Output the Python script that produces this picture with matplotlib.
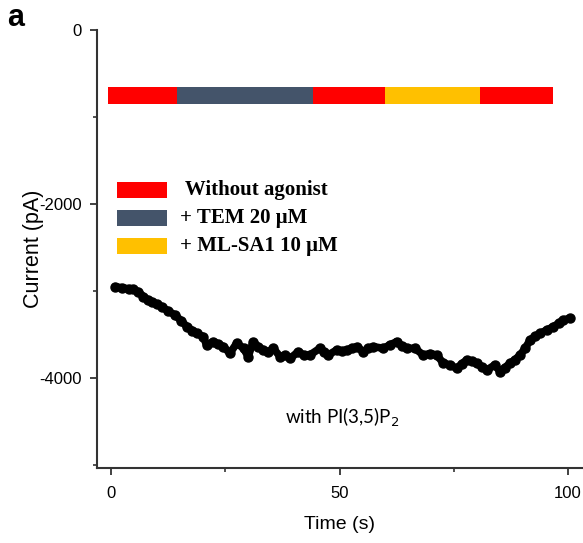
import matplotlib
matplotlib.use("Agg")
import matplotlib.pyplot as plt
from matplotlib.patches import Rectangle
from matplotlib.ticker import MultipleLocator

plt.rcParams['axes.unicode_minus'] = False
plt.rcParams['font.family'] = ['Liberation Sans', 'DejaVu Sans']

# ---- data ----
time_s = [0.9, 2.5, 4.0, 4.9, 6.0, 7.1, 8.0, 8.9, 10.0, 11.1, 12.5, 14.0, 15.3, 16.6,
          17.8, 18.8, 20.2, 20.9, 22.4, 23.5, 24.6, 26.0, 27.5, 29.0, 30.0, 31.1,
          32.2, 33.3, 34.4, 35.5, 37.0, 38.0, 39.2, 41.0, 42.2, 43.5, 45.7, 46.6,
          47.5, 49.4, 50.5, 51.6, 52.7, 53.8, 55.2, 56.3, 57.4, 59.6, 61.0, 62.5,
          63.6, 64.7, 66.5, 68.3, 69.8, 71.3, 72.7, 74.2, 75.6, 76.7, 77.8, 79.0,
          80.0, 81.1, 82.2, 84.0, 85.1, 86.2, 87.3, 88.4, 89.5, 90.6, 91.7, 92.8,
          93.9, 95.3, 96.8, 98.0, 99.0, 100.4]
current_pa = [-2950, -2965, -2975, -2980, -3010, -3065, -3100, -3130, -3150, -3180,
              -3230, -3276, -3340, -3410, -3455, -3487, -3525, -3620, -3583, -3610,
              -3640, -3716, -3601, -3659, -3755, -3583, -3640, -3678, -3700, -3659,
              -3755, -3740, -3774, -3697, -3740, -3736, -3659, -3700, -3736, -3678,
              -3690, -3678, -3660, -3640, -3697, -3660, -3640, -3659, -3620, -3583,
              -3630, -3659, -3659, -3736, -3720, -3736, -3831, -3850, -3889, -3840,
              -3793, -3810, -3831, -3870, -3908, -3850, -3927, -3880, -3831, -3790,
              -3736, -3660, -3563, -3520, -3487, -3450, -3410, -3370, -3333, -3314]

seg_start = [-0.7, 14.4, 44.2, 60.0, 80.7]
seg_end = [14.4, 44.2, 60.0, 80.7, 96.7]
seg_color = ['#FF0000', '#44546A', '#FF0000', '#FFC000', '#FF0000']

legend_labels = [' Without agonist', '+ TEM 20 μM', '+ ML-SA1 10 μM']
legend_colors = ['#FF0000', '#44546A', '#FFC000']

x_ticks = [0, 50, 100]
y_ticks = [0, -2000, -4000]

# ---- figure ----
fig = plt.figure(figsize=(5.83, 5.43), dpi=100)
ax = fig.add_axes([0.1669, 0.1381, 0.831, 0.8066])

spine_col = '#333333'
for s in ['top', 'right']:
    ax.spines[s].set_visible(False)
for s in ['left', 'bottom']:
    ax.spines[s].set_color(spine_col)
    ax.spines[s].set_linewidth(1.5)

# protocol bar
widths = [e - s for s, e in zip(seg_start, seg_end)]
ax.barh(-752, widths, left=seg_start, height=195, color=seg_color, edgecolor='none')

# legend (manual)
row_y = [-1839, -2161, -2483]
for lab, col, yc in zip(legend_labels, legend_colors, row_y):
    ax.add_patch(Rectangle((1.3, yc - 92), 11.0, 184, facecolor=col, edgecolor='none'))
    ax.text(15.1, yc, lab, fontsize=15, fontweight='bold', family='Liberation Serif',
            va='center', ha='left')

# data
ax.plot(time_s, current_pa, color='black', lw=5.5, solid_capstyle='round',
        solid_joinstyle='round')
ax.plot(time_s, current_pa, 'o', color='black', ms=6.5)

ax.text(50.5, -4450, 'with PI(3,5)P$_2$', fontsize=13.5, family='Lato',
        ha='center', va='center')

ax.set_xlim(-3, 103)
ax.set_ylim(-5035, 0)
ax.set_xticks(x_ticks)
ax.set_yticks(y_ticks)
ax.set_yticklabels([str(v) for v in y_ticks])
ax.xaxis.set_minor_locator(MultipleLocator(25))
ax.yaxis.set_minor_locator(MultipleLocator(1000))
ax.tick_params(which='major', direction='out', length=5, width=1.3, colors=spine_col,
               labelsize=12, labelcolor='black', pad=6)
ax.tick_params(axis='x', which='major', pad=8)
ax.tick_params(which='minor', direction='out', length=3, width=1.2, colors=spine_col)

ax.set_xlabel('Time (s)', fontsize=14, labelpad=11)
ax.set_ylabel('Current (pA)', fontsize=15.5, labelpad=-3)

fig.text(0.012, 0.966, 'a', fontsize=22, fontweight='bold', va='center', ha='left')

fig.savefig('out.png', dpi=100)
